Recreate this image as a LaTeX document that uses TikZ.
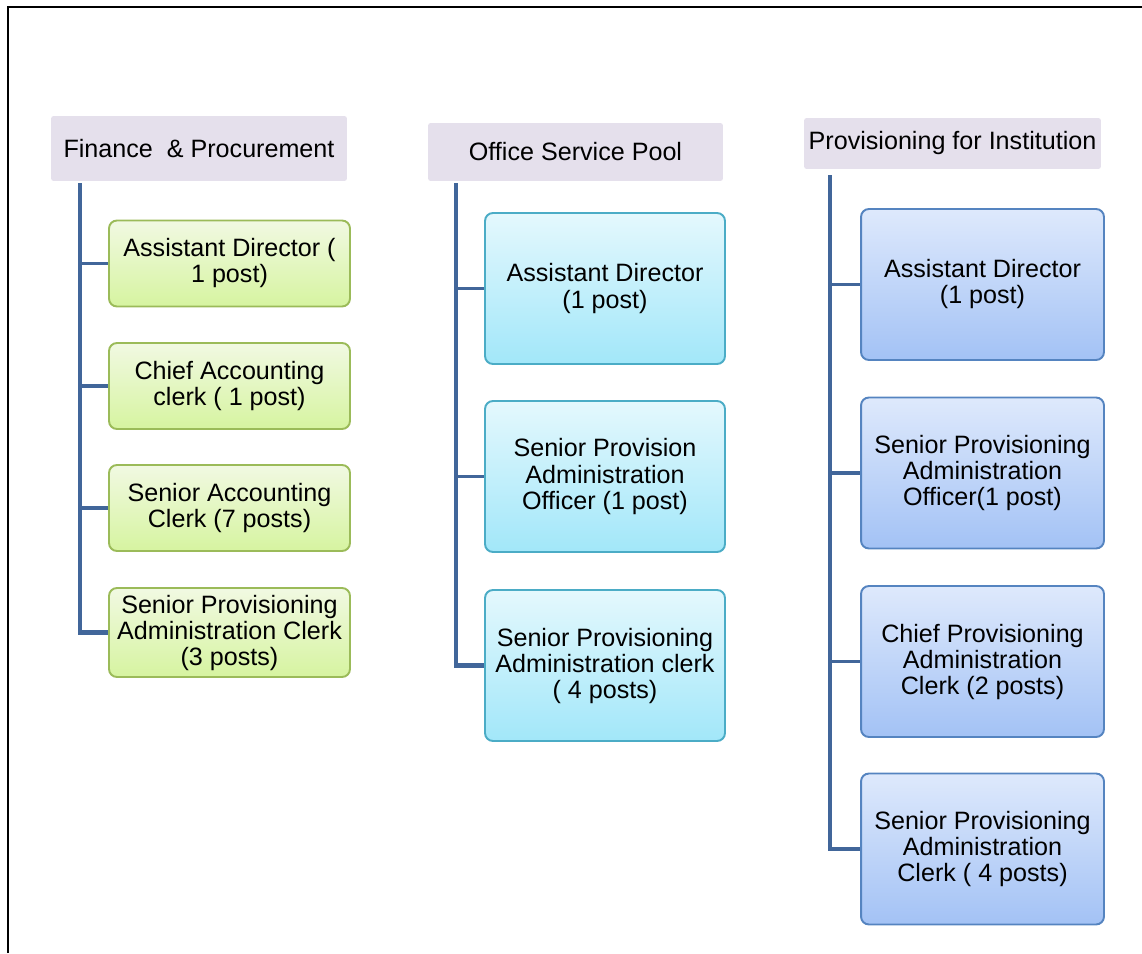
\documentclass[tikz,border=0pt]{standalone}
\usepackage{fontspec}
\setmainfont{Liberation Sans}
\definecolor{trunkblue}{HTML}{41669A}
\definecolor{hdrfill}{HTML}{E5E0EC}
\definecolor{greenedge}{HTML}{9BBB59}
\definecolor{greentop}{HTML}{F1F9E2}
\definecolor{greenbot}{HTML}{D6F4A0}
\definecolor{cyanedge}{HTML}{4BACC6}
\definecolor{cyantop}{HTML}{E4F8FD}
\definecolor{cyanbot}{HTML}{A2E7F9}
\definecolor{blueedge}{HTML}{5584C0}
\definecolor{bluetop}{HTML}{DEE9FC}
\definecolor{bluebot}{HTML}{A3C2F5}
\begin{document}
\begin{tikzpicture}[x=0.02cm, y=-0.02cm,
  font=\fontsize{14.3}{14.8}\selectfont,
  hdr/.style={fill=hdrfill, rounded corners=1.5pt, inner sep=0pt, align=center},
  post/.style={draw, line width=1.1pt, rounded corners=4.5pt, inner sep=0pt, align=center},
  greenpost/.style={post, draw=greenedge, top color=greentop, bottom color=greenbot,
                    minimum width=4.82cm, minimum height=1.72cm},
  cyanpost/.style={post, draw=cyanedge, top color=cyantop, bottom color=cyanbot,
                   minimum width=4.80cm, minimum height=3.02cm},
  bluepost/.style={post, draw=blueedge, top color=bluetop, bottom color=bluebot,
                   minimum width=4.86cm, minimum height=3.02cm},
  trunk/.style={draw=trunkblue, line width=2.8pt},
  branch/.style={draw=trunkblue, line width=2.2pt}]

\useasboundingbox (0,0) rectangle (1142,953);

% outer frame (left and top edges)
\coordinate (frameTL) at (8,7);
\coordinate (frameBL) at (8,953);
\coordinate (frameTR) at (1142,7);
\draw[line width=1.2pt] (frameBL) -- (frameTL) -- (frameTR);

% group headers
\node[hdr, minimum width=5.92cm, minimum height=1.30cm] (fin) at (199,148.5) {Finance\ \ \& Procurement};
\node[hdr, minimum width=5.90cm, minimum height=1.16cm] (osp) at (575.5,152) {Office Service Pool};
\node[hdr, minimum width=5.94cm, minimum height=1.02cm] (pfi) at (952.5,143.5) {Provisioning for Institution};

% Finance & Procurement posts
\node[greenpost] (f1) at (229.5,263.5) {Assistant Director (\\1 post)};
\node[greenpost] (f2) at (229.5,386) {Chief Accounting\\clerk ( 1 post)};
\node[greenpost] (f3) at (229.5,508) {Senior Accounting\\Clerk (7 posts)};
\node[greenpost, minimum height=1.78cm] (f4) at (229.5,632.5) {Senior Provisioning\\Administration Clerk\\(3 posts)};

% Office Service Pool posts
\node[cyanpost] (o1) at (605,288.5) {Assistant Director\\(1 post)};
\node[cyanpost] (o2) at (605,476.5) {Senior Provision\\Administration\\Officer (1 post)};
\node[cyanpost] (o3) at (605,665.5) {Senior Provisioning\\Administration clerk\\( 4 posts)};

% Provisioning for Institution posts
\node[bluepost] (p1) at (982.5,284.5) {Assistant Director\\(1 post)};
\node[bluepost] (p2) at (982.5,473) {Senior Provisioning\\Administration\\Officer(1 post)};
\node[bluepost] (p3) at (982.5,661.5) {Chief Provisioning\\Administration\\Clerk (2 posts)};
\node[bluepost] (p4) at (982.5,849) {Senior Provisioning\\Administration\\Clerk ( 4 posts)};

% trunk tops
\coordinate (ft) at (80,183);
\coordinate (ot) at (456,183);
\coordinate (pt) at (830,175);

% connectors
\begin{scope}[on background layer/.style={}]
\draw[trunk, line join=miter] (ft) |- (f4.west);
\draw[branch] (f1.west -| ft) -- (f1.west);
\draw[branch] (f2.west -| ft) -- (f2.west);
\draw[branch] (f3.west -| ft) -- (f3.west);

\draw[trunk, line join=miter] (ot) |- (o3.west);
\draw[branch] (o1.west -| ot) -- (o1.west);
\draw[branch] (o2.west -| ot) -- (o2.west);

\draw[trunk, line join=miter] (pt) |- (p4.west);
\draw[branch] (p1.west -| pt) -- (p1.west);
\draw[branch] (p2.west -| pt) -- (p2.west);
\draw[branch] (p3.west -| pt) -- (p3.west);
\end{scope}
\end{tikzpicture}
\end{document}
